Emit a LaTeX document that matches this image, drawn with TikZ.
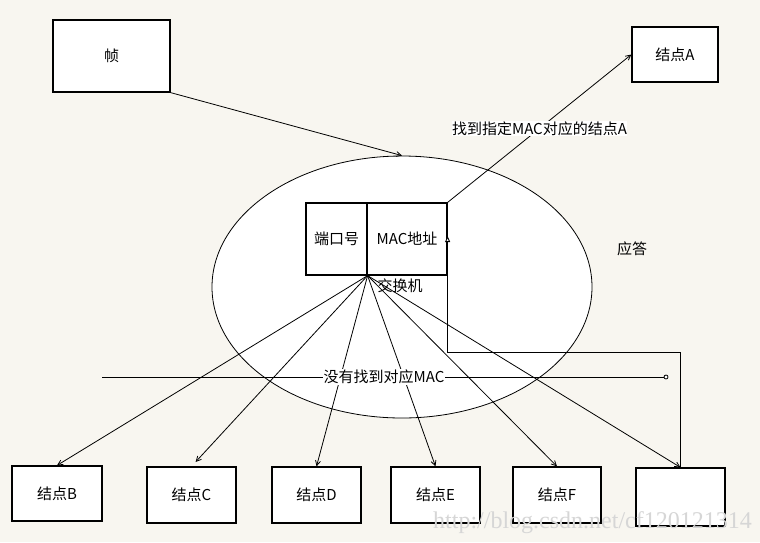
\documentclass[tikz,border=0pt]{standalone}
\usepackage{fontspec}
\setmainfont{Noto Sans CJK SC}
\newfontfamily\wmfont{Liberation Serif}
\usetikzlibrary{arrows.meta,shapes.geometric}
\definecolor{bgc}{HTML}{F8F6F0}
\begin{document}
\begin{tikzpicture}[x=1pt,y=-1pt,
  box/.style={draw, line width=1.2pt, fill=white, inner sep=0pt, font=\fontsize{15}{17}\selectfont},
  conn/.style={line width=0.8pt, -{Straight Barb[length=5pt,width=5pt]}},
  lbl/.style={font=\fontsize{15}{17}\selectfont}]
\fill[bgc] (0,0) rectangle (760,542);
\useasboundingbox (0,0) rectangle (760,542);
% top boxes
\node[box, minimum width=117pt, minimum height=72pt] (frame) at (111.5,56) {帧};
\node[box, minimum width=86pt, minimum height=55pt] (A) at (675,54.5) {结点A};
% switch
\node[draw, ellipse, fill=white, line width=0.8pt, minimum width=380pt, minimum height=262pt] (switch) at (402,287) {};
\node[box, minimum width=61pt, minimum height=72pt] (port) at (336.5,239) {端口号};
\node[box, minimum width=80pt, minimum height=72pt] (mac) at (407,239) {MAC地址};
\node[lbl] (swlabel) at (400,286) {交换机};
\coordinate (hub) at (port.south east);
% bottom boxes
\node[box, minimum width=90pt, minimum height=55pt] (B) at (57,493.5) {结点B};
\node[box, minimum width=89pt, minimum height=56pt] (C) at (191.5,495) {结点C};
\node[box, minimum width=89pt, minimum height=56pt] (D) at (316.5,495) {结点D};
\node[box, minimum width=89pt, minimum height=56pt] (E) at (435.5,495) {结点E};
\node[box, minimum width=88pt, minimum height=56pt] (F) at (557,495) {结点F};
\node[box, minimum width=89pt, minimum height=58pt] (G) at (680.5,497) {};
% connectors
\draw[conn] (frame.south east) -- (switch.north);
\draw[conn] (hub) -- (B.north);
\draw[conn, shorten >=6pt] (hub) -- (C.north);
\draw[conn] (hub) -- (D.north);
\draw[conn] (hub) -- (E.north);
\draw[conn] (hub) -- (F.north);
\draw[conn] (hub) -- (G.north);
\draw[conn] (mac.north east) -- (A.west)
  node[midway, fill=white, inner sep=0.5pt, lbl] {找到指定MAC对应的结点A};
\draw[line width=0.9pt, -{Triangle[open, fill=white, length=6pt, width=5pt]}]
  (G.north) -- (G.north |- 0,352) -- (mac.east |- 0,352) -- ([yshift=3pt]mac.east);
\coordinate (hl) at (102,377);
\coordinate (hr) at (666,377);
\draw[line width=0.8pt] (hl) -- (hr)
  node[midway, fill=white, inner sep=0.5pt, lbl] {没有找到对应MAC};
\draw[line width=0.8pt, fill=white] (hr) circle (2pt);
\node[lbl] (reply) at (632,249) {应答};
\node[font=\wmfont\fontsize{24}{24}\selectfont, text=black!16, anchor=base east, inner sep=0pt] (wm) at (752,528) {http://blog.csdn.net/cf120121314};
\end{tikzpicture}
\end{document}
